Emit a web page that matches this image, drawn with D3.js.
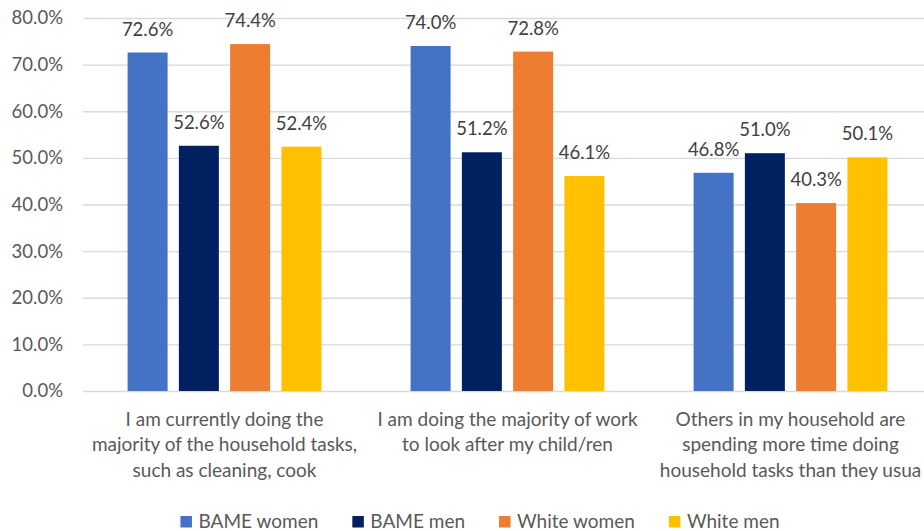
<!DOCTYPE html>
<html>
<head>
<meta charset="utf-8">
<script src="https://cdn.jsdelivr.net/npm/d3@7"></script>
<style>
  body { margin: 0; background: #fff; }
  svg { display: block; font-family: Lato, "Open Sans", sans-serif; }
</style>
</head>
<body>
<svg id="chart"></svg>
<script>
// categories (wrapped as Excel shows them, text cut off where the source cuts it)
let categories = [
  "I am currently doing the\nmajority of the household tasks,\nsuch as cleaning, cook",
  "I am doing the majority of work\nto look after my child/ren",
  "Others in my household are\nspending more time doing\nhousehold tasks than they usua"
];

let seriesNames = ["BAME women", "BAME men", "White women", "White men"];
let seriesColors = ["#4472C4", "#002060", "#ED7D31", "#FFC000"];

// one array per series, same order as categories
let bameWomen = [0.726, 0.740, 0.468];
let bameMen = [0.526, 0.512, 0.510];
let whiteWomen = [0.744, 0.728, 0.403];
let whiteMen = [0.524, 0.461, 0.501];

let yTicks = [0, 0.1, 0.2, 0.3, 0.4, 0.5, 0.6, 0.7, 0.8];

let seriesValues = [bameWomen, bameMen, whiteWomen, whiteMen];

let width = 924;
let height = 531;
let plotLeft = 83;
let plotRight = 932;
let plotTop = 18;
let plotBottom = 391;

let svg = d3.select('#chart')
  .attr('width', width)
  .attr('height', height);

let yScale = d3.scaleLinear()
  .domain([0, 0.8])
  .range([plotBottom, plotTop]);

let xScale = d3.scaleBand()
  .domain(d3.range(categories.length))
  .range([plotLeft, plotRight]);

let subScale = d3.scaleBand()
  .domain(d3.range(seriesNames.length))
  .range([0, xScale.bandwidth()])
  .paddingInner(0.22)
  .paddingOuter(0.87);

let fmt = d3.format('.1%');

// gridlines + tick labels
let yAxis = d3.axisLeft(yScale)
  .tickValues(yTicks)
  .tickFormat(fmt)
  .tickSize(-(plotRight - plotLeft))
  .tickPadding(20);

let yg = svg.append('g')
  .attr('transform', 'translate(' + plotLeft + ',0)')
  .call(yAxis);

yg.select('.domain').remove();
yg.selectAll('.tick line')
  .attr('stroke', '#D9D9D9')
  .attr('stroke-width', 1.3);
yg.selectAll('.tick text')
  .attr('fill', '#595959')
  .style('font-size', '18.5px')
  .style('font-family', 'Lato, "Open Sans", sans-serif');

// bars
let rows = [];
categories.forEach((c, ci) => {
  seriesValues.forEach((vals, si) => {
    rows.push({ ci: ci, si: si, v: vals[ci] });
  });
});

svg.append('g')
  .selectAll('rect')
  .data(rows)
  .enter()
  .append('rect')
  .attr('x', d => xScale(d.ci) + subScale(d.si))
  .attr('y', d => yScale(d.v))
  .attr('width', subScale.bandwidth())
  .attr('height', d => yScale(0) - yScale(d.v))
  .attr('fill', d => seriesColors[d.si]);

// data labels
svg.append('g')
  .selectAll('text')
  .data(rows)
  .enter()
  .append('text')
  .attr('x', d => xScale(d.ci) + subScale(d.si) + subScale.bandwidth() / 2)
  .attr('y', d => yScale(d.v) - 17)
  .attr('text-anchor', 'middle')
  .attr('fill', '#404040')
  .style('font-size', '18.5px')
  .text(d => fmt(d.v));

// category labels
let catText = svg.append('g')
  .selectAll('text')
  .data(categories)
  .enter()
  .append('text')
  .attr('x', (d, i) => xScale(i) + xScale.bandwidth() / 2)
  .attr('y', 426)
  .attr('text-anchor', 'middle')
  .attr('fill', '#595959')
  .style('font-size', '19px');

catText.selectAll('tspan')
  .data(d => d.split('\n'))
  .enter()
  .append('tspan')
  .attr('x', function () { return this.parentNode.getAttribute('x'); })
  .attr('dy', (d, i) => i === 0 ? 0 : 25.3)
  .text(d => d);

// legend
let legend = svg.append('g');
let items = legend.selectAll('g')
  .data(seriesNames)
  .enter()
  .append('g');

items.append('rect')
  .attr('width', 11.5)
  .attr('height', 11.5)
  .attr('y', 516)
  .attr('fill', (d, i) => seriesColors[i]);

items.append('text')
  .attr('x', 18)
  .attr('y', 528)
  .attr('fill', '#595959')
  .style('font-size', '19px')
  .text(d => d);

let xpos = 0;
let gap = 34;
items.each(function () {
  let w = d3.select(this).select('text').node().getComputedTextLength();
  d3.select(this).attr('transform', 'translate(' + xpos + ',0)');
  xpos += 18 + w + gap;
});
let total = xpos - gap;
legend.attr('transform', 'translate(' + (480 - total / 2) + ',0)');
</script>
</body>
</html>
